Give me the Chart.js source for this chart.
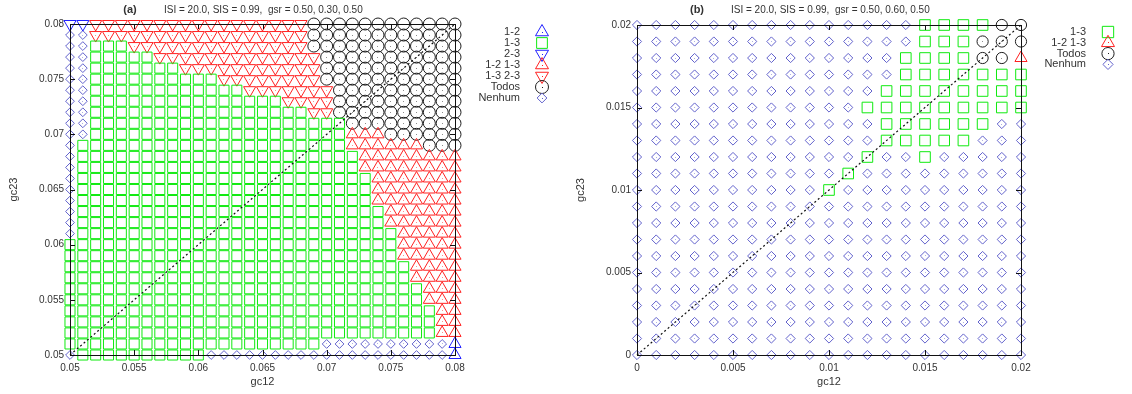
<!DOCTYPE html>
<html>
<head>
<meta charset="utf-8">
<script src="https://cdn.jsdelivr.net/npm/chart.js"></script>
<style>
  body { margin: 0; background: #fff; }
  #wrap { position: relative; width: 1132px; height: 394px; }
  canvas { position: absolute; top: 0; }
  #chartA { left: 0; }
  #chartB { left: 566px; }
</style>
</head>
<body>
<div id="wrap">
  <canvas id="chartA" width="566" height="394"></canvas>
  <canvas id="chartB" width="566" height="394"></canvas>
</div>
<script>
// ---------- panel (a) ----------
const gc12A = [0.050, 0.051, 0.052, 0.053, 0.054, 0.055, 0.056, 0.057, 0.058, 0.059, 0.060,
  0.061, 0.062, 0.063, 0.064, 0.065, 0.066, 0.067, 0.068, 0.069, 0.070,
  0.071, 0.072, 0.073, 0.074, 0.075, 0.076, 0.077, 0.078, 0.079, 0.080];
const gc23A = [0.050, 0.051, 0.052, 0.053, 0.054, 0.055, 0.056, 0.057, 0.058, 0.059, 0.060,
  0.061, 0.062, 0.063, 0.064, 0.065, 0.066, 0.067, 0.068, 0.069, 0.070,
  0.071, 0.072, 0.073, 0.074, 0.075, 0.076, 0.077, 0.078, 0.079, 0.080];
const ticksA = [0.05, 0.055, 0.06, 0.065, 0.07, 0.075, 0.08];
const tickLabelsA = ['0.05', '0.055', '0.06', '0.065', '0.07', '0.075', '0.08'];
const diagA = [0.05, 0.08];
// filas de arriba (gc23 = 0.08) a abajo (gc23 = 0.05), codigo + cantidad de celdas
const rowsA = [
  'B2 V17 O12',
  'N2 V17 O12',
  'N2 S3 V14 O12',
  'N2 S5 V13 O11',
  'N2 S7 V11 O11',
  'N2 S10 V8 O11',
  'N2 S12 V7 O10',
  'N2 S15 V4 O10',
  'N2 S17 V2 O10',
  'N2 S20 O9',
  'N2 S20 T3 O6',
  'N1 S21 T6 O3',
  'N1 S22 T8',
  'N1 S22 T8',
  'N1 S23 T7',
  'N1 S23 T7',
  'N1 S23 T7',
  'N1 S24 T6',
  'N1 S24 T6',
  'N1 S25 T5',
  'S26 T5',
  'S26 T5',
  'S27 T4',
  'S27 T4',
  'S28 T3',
  'S28 T3',
  'S29 T2',
  'S29 T2',
  'S29 T2',
  'S20 N10 A1',
  'N1 S10 N19 A1'
];
const legendA = ['1-2', '1-3', '2-3', '1-2 1-3', '1-3 2-3', 'Todos', 'Nenhum'];
const codesA = ['A', 'S', 'B', 'T', 'V', 'O', 'N'];

// ---------- panel (b) ----------
const gc12B = [0, 0.001, 0.002, 0.003, 0.004, 0.005, 0.006, 0.007, 0.008, 0.009, 0.010,
  0.011, 0.012, 0.013, 0.014, 0.015, 0.016, 0.017, 0.018, 0.019, 0.020];
const gc23B = [0, 0.001, 0.002, 0.003, 0.004, 0.005, 0.006, 0.007, 0.008, 0.009, 0.010,
  0.011, 0.012, 0.013, 0.014, 0.015, 0.016, 0.017, 0.018, 0.019, 0.020];
const ticksB = [0, 0.005, 0.01, 0.015, 0.02];
const tickLabelsB = ['0', '0.005', '0.01', '0.015', '0.02'];
const diagB = [0, 0.02];
const rowsB = [
  'N15 S4 O2',
  'N15 S3 O3',
  'N14 S4 O2 T1',
  'N14 S7',
  'N13 S8',
  'N12 S9',
  'N13 S6 N2',
  'N13 S5 N3',
  'N12 S1 N2 S1 N5',
  'N11 S1 N9',
  'N10 S1 N10',
  'N21', 'N21', 'N21', 'N21', 'N21', 'N21', 'N21', 'N21', 'N21', 'N21'
];
const legendB = ['1-3', '1-2 1-3', 'Todos', 'Nenhum'];
const codesB = ['S', 'T', 'O', 'N'];

const fuente = '"Liberation Sans", Arial, sans-serif';
Chart.defaults.font.family = fuente;

// estilo de cada clase
const estilos = {
  A: { pointStyle: 'triangle', rotation: 0, color: '#2020ff', radius: 7, dot: true },
  S: { pointStyle: 'rect', rotation: 0, color: '#10ea10', radius: 7.1, dot: false },
  B: { pointStyle: 'triangle', rotation: 180, color: '#2020ff', radius: 7, dot: true },
  T: { pointStyle: 'triangle', rotation: 0, color: '#ff2020', radius: 7, dot: true },
  V: { pointStyle: 'triangle', rotation: 180, color: '#ff2020', radius: 7, dot: true },
  O: { pointStyle: 'circle', rotation: 0, color: '#1e1e1e', radius: 6, dot: true },
  N: { pointStyle: 'rectRot', rotation: 0, color: '#6262cc', radius: 4.4, dot: true }
};

function expandRow(rle) {
  let out = '';
  rle.split(' ').forEach(p => { out += p[0].repeat(parseInt(p.slice(1))); });
  return out;
}

function pointsFor(rows, xs, ys, code) {
  const pts = [];
  rows.forEach((rle, i) => {
    const row = expandRow(rle);
    const y = ys[ys.length - 1 - i];
    for (let k = 0; k < row.length; k++) {
      if (row[k] === code) pts.push({ x: xs[k], y: y });
    }
  });
  return pts;
}

// marco, ticks hacia adentro y puntito central de los marcadores
const marco = {
  id: 'marco',
  afterDatasetsDraw(chart) {
    const { ctx, chartArea: a, scales } = chart;
    ctx.save();
    chart.data.datasets.forEach((ds, i) => {
      if (!ds.punto) return;
      ctx.fillStyle = ds.borderColor;
      ctx.globalAlpha = 0.5;
      chart.getDatasetMeta(i).data.forEach(p => {
        ctx.fillRect(Math.floor(p.x), Math.floor(p.y), 1, 1);
      });
    });
    ctx.globalAlpha = 1;
    ctx.strokeStyle = '#111';
    ctx.lineWidth = 1;
    ctx.strokeRect(a.left + 0.5, a.top + 0.5, a.right - a.left, a.bottom - a.top);
    ctx.beginPath();
    scales.x.ticks.forEach(t => {
      const px = Math.round(scales.x.getPixelForValue(t.value)) + 0.5;
      ctx.moveTo(px, a.bottom); ctx.lineTo(px, a.bottom - 5);
      ctx.moveTo(px, a.top); ctx.lineTo(px, a.top + 5);
    });
    scales.y.ticks.forEach(t => {
      const py = Math.round(scales.y.getPixelForValue(t.value)) + 0.5;
      ctx.moveTo(a.left, py); ctx.lineTo(a.left + 5, py);
      ctx.moveTo(a.right, py); ctx.lineTo(a.right - 5, py);
    });
    ctx.stroke();
    ctx.restore();
  },
  afterDraw(chart, args, opts) {
    const { ctx, chartArea: a } = chart;
    ctx.save();
    ctx.fillStyle = '#333';
    ctx.textBaseline = 'middle';
    ctx.font = 'bold 11px ' + fuente;
    ctx.textAlign = 'center';
    ctx.fillText(opts.tag, a.left + 60, 10);
    ctx.font = '10px ' + fuente;
    ctx.textAlign = 'left';
    ctx.fillText(opts.sub, a.left + 94, 10);

    // leyenda: texto a la derecha alineado, marcador al lado
    let fila = 0;
    chart.data.datasets.forEach(ds => {
      if (!ds.enLeyenda) return;
      const y = 32 + fila * opts.paso;
      ctx.font = '11px ' + fuente;
      ctx.textAlign = 'right';
      ctx.fillStyle = '#333';
      ctx.fillText(ds.label, a.right + 65, y);
      ctx.strokeStyle = ds.borderColor;
      ctx.fillStyle = 'rgba(0,0,0,0)';
      ctx.lineWidth = 1;
      Chart.helpers.drawPoint(ctx, {
        pointStyle: ds.pointStyle, rotation: ds.pointRotation,
        radius: ds.pointRadius + 0.5, borderWidth: 1
      }, a.right + 87, y);
      if (ds.punto) {
        ctx.fillStyle = ds.borderColor;
        ctx.fillRect(Math.floor(a.right + 87), Math.floor(y), 1, 1);
      }
      fila++;
    });
    ctx.restore();
  }
};

function crearGrafico(id, o) {
  const datasets = [{
    label: 'diag',
    data: o.diag.map(v => ({ x: v, y: v })),
    showLine: true,
    pointRadius: 0,
    borderColor: '#111',
    borderWidth: 1.2,
    borderDash: [2, 2.5],
    clip: false
  }];
  o.codes.forEach((c, i) => {
    const e = estilos[c];
    datasets.push({
      label: o.legend[i],
      data: pointsFor(o.rows, o.xs, o.ys, c),
      pointStyle: e.pointStyle,
      pointRotation: e.rotation,
      pointRadius: (o.sizes && o.sizes[c]) || e.radius,
      borderColor: e.color,
      backgroundColor: 'rgba(0,0,0,0)',
      pointBorderWidth: 1,
      clip: false,
      enLeyenda: true,
      punto: e.dot
    });
  });

  const eje = (vals, labels, min, max, titulo, horizontal) => ({
    type: 'linear',
    min: min,
    max: max,
    afterBuildTicks: s => { s.ticks = vals.map(v => ({ value: v })); },
    afterFit: s => { if (horizontal) s.height = 39; else s.width = 70; },
    ticks: {
      callback: (v, i) => labels[i],
      color: '#333',
      font: { size: 10 },
      padding: horizontal ? 7 : 6,
      autoSkip: false,
      maxRotation: 0
    },
    grid: { display: false, drawTicks: false },
    border: { display: false },
    title: {
      display: true,
      text: titulo,
      color: '#333',
      font: { size: 11 },
      padding: horizontal ? { top: 0, bottom: 5 } : { top: 7, bottom: 0 }
    }
  });

  return new Chart(document.getElementById(id), {
    type: 'scatter',
    data: { datasets: datasets },
    options: {
      responsive: false,
      animation: false,
      events: [],
      layout: { padding: o.padding },
      plugins: {
        legend: { display: false },
        tooltip: { enabled: false },
        marco: { tag: o.tag, sub: o.sub, paso: o.paso }
      },
      scales: {
        x: eje(o.ticks, o.tickLabels, o.xs[0], o.xs[o.xs.length - 1], 'gc12', true),
        y: eje(o.ticks, o.tickLabels, o.ys[0], o.ys[o.ys.length - 1], 'gc23', false)
      }
    },
    plugins: [marco]
  });
}

crearGrafico('chartA', {
  xs: gc12A, ys: gc23A, rows: rowsA, codes: codesA, legend: legendA,
  ticks: ticksA, tickLabels: tickLabelsA, diag: diagA,
  tag: '(a)', sub: 'ISI = 20.0, SIS = 0.99,  gsr = 0.50, 0.30, 0.50',
  padding: { left: 0, right: 111, top: 24, bottom: 0 }, paso: 11
});

crearGrafico('chartB', {
  xs: gc12B, ys: gc23B, rows: rowsB, codes: codesB, legend: legendB,
  ticks: ticksB, tickLabels: tickLabelsB, diag: diagB,
  tag: '(b)', sub: 'ISI = 20.0, SIS = 0.99,  gsr = 0.50, 0.60, 0.50',
  padding: { left: 1, right: 111, top: 25, bottom: 0 }, paso: 10.8,
  sizes: { S: 7.5, O: 5.6, N: 4.6 }
});
</script>
</body>
</html>
